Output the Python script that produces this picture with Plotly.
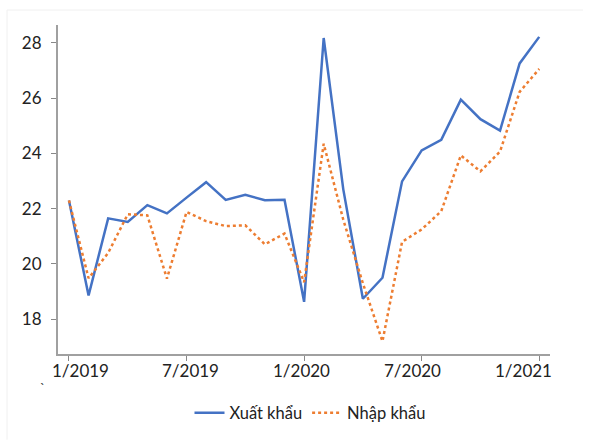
import plotly.graph_objects as go

months = ["1/2019", "2/2019", "3/2019", "4/2019", "5/2019", "6/2019", "7/2019", "8/2019",
          "9/2019", "10/2019", "11/2019", "12/2019", "1/2020", "2/2020", "3/2020", "4/2020",
          "5/2020", "6/2020", "7/2020", "8/2020", "9/2020", "10/2020", "11/2020", "12/2020",
          "1/2021"]
xuat_khau = [22.3, 18.86, 21.65, 21.52, 22.13, 21.83, 22.4, 22.96, 22.32, 22.5, 22.31, 22.32,
             18.63, 28.18, 22.7, 18.74, 19.5, 22.99, 24.11, 24.49, 25.95, 25.24, 24.83, 27.26, 28.22]
nhap_khau = [22.3, 19.48, 20.4, 21.8, 21.76, 19.47, 21.88, 21.55, 21.37, 21.4, 20.71, 21.1,
             19.34, 24.35, 21.6, 19.3, 17.2, 20.8, 21.25, 21.91, 23.93, 23.35, 24.07, 26.23, 27.06]
tick_labels = ["1/2019", "7/2019", "1/2020", "7/2020", "1/2021"]

# plot area in pixels
L, R, T, B = 58, 550, 25, 355
W, H = 600, 441

def px(xp):
    return (xp - L) / (R - L)

def py(yp):
    return (B - yp) / (B - T)

fig = go.Figure()
fig.add_trace(go.Scatter(x=months, y=xuat_khau, name="Xuất khẩu", mode="lines",
                         line=dict(color="#4472C4", width=2.5)))
fig.add_trace(go.Scatter(x=months, y=nhap_khau, name="Nhập khẩu", mode="lines",
                         line=dict(color="#ED7D31", width=2.5, dash="dot")))

font = "Lato, 'Open Sans', Arial, sans-serif"

fig.update_layout(
    width=W, height=H,
    margin=dict(l=L, r=W - R, t=T, b=H - B),
    paper_bgcolor="white", plot_bgcolor="white",
    font=dict(family=font, size=17, color="#222222"),
    showlegend=True,
    legend=dict(orientation="h", x=px(310), xanchor="center", y=py(413), yanchor="middle",
                font=dict(size=16.5, color="#222222"), itemwidth=30),
    xaxis=dict(type="category", range=[-0.56, 24.55], showgrid=False, zeroline=False,
               showline=True, linecolor="#a0a0a0", linewidth=2,
               ticks="outside", ticklen=5, tickwidth=1, tickcolor="#888888",
               tickvals=tick_labels, ticktext=["", "", "", "", ""]),
    yaxis=dict(range=[16.74, 28.65], showgrid=False, zeroline=False,
               showline=True, linecolor="#a0a0a0", linewidth=2,
               ticks="outside", ticklen=5, tickwidth=1, tickcolor="#888888",
               tickvals=[18, 20, 22, 24, 26, 28], ticklabelstandoff=6),
)

# x tick labels (placed as in the reference, evenly from 80px to 523px)
label_centers = [80, 190.75, 301.5, 412.25, 523]
for lab, cx in zip(tick_labels, label_centers):
    fig.add_annotation(text=lab, xref="paper", yref="paper", x=px(cx), y=py(372),
                       xanchor="center", yanchor="middle", showarrow=False,
                       font=dict(size=17, color="#222222", family=font))

# faint outer frame
fig.add_shape(type="line", xref="paper", yref="paper", x0=px(7), x1=px(583), y0=py(10), y1=py(10),
              line=dict(color="#f0f0f0", width=1))
fig.add_shape(type="line", xref="paper", yref="paper", x0=px(7), x1=px(7), y0=py(10), y1=py(441),
              line=dict(color="#f0f0f0", width=1))
# stray mark
fig.add_annotation(text="ˎ", xref="paper", yref="paper", x=px(42), y=py(379), showarrow=False,
                   font=dict(size=14, color="#444444"), xanchor="center", yanchor="middle")

fig.write_html("out.html")
